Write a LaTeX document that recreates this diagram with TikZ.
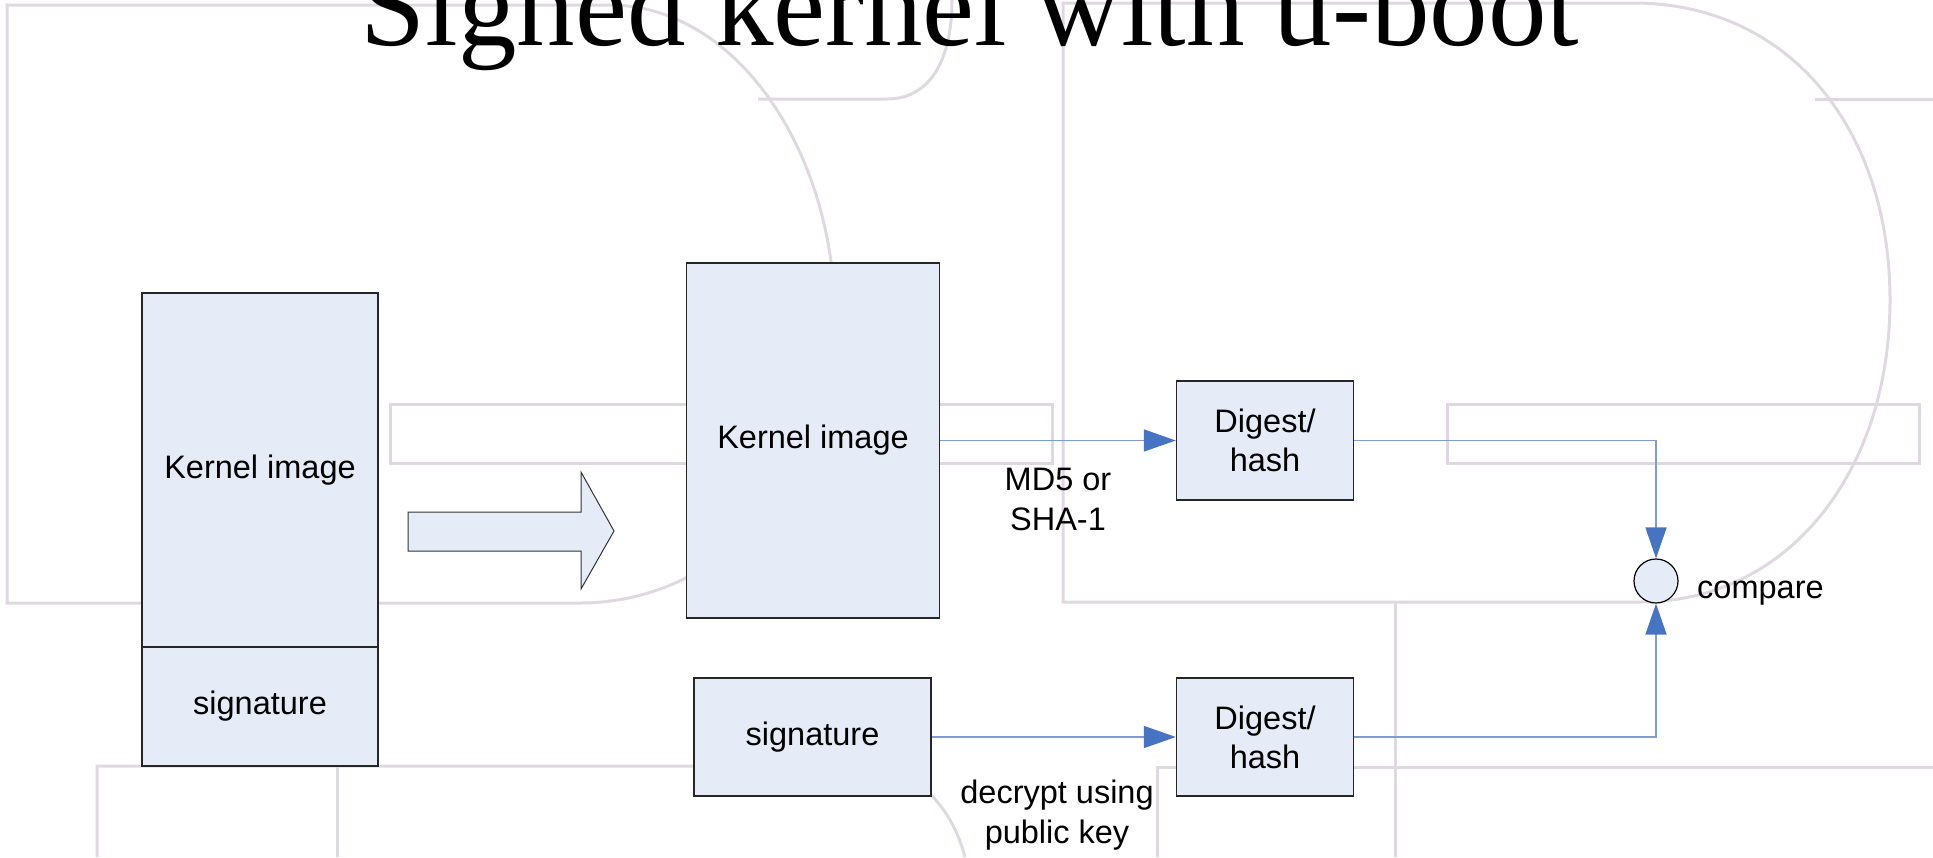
\documentclass[tikz,border=0pt]{standalone}
\usepackage{fontspec}
\setmainfont{Liberation Sans}
\newfontfamily\titlefont{Liberation Serif}
\usetikzlibrary{arrows.meta}
\definecolor{boxfill}{RGB}{230,236,247}
\definecolor{wm}{RGB}{224,216,225}
\definecolor{linkblue}{RGB}{126,157,212}
\definecolor{headblue}{RGB}{70,116,194}
\tikzset{
  box/.style={draw=black!85, line width=1.4pt, fill=boxfill, inner sep=0pt,
    font=\fontsize{32.5}{39}\selectfont, align=center},
  wmline/.style={draw=wm, line width=3pt},
  link/.style={draw=linkblue, line width=1.6pt},
  bluehead/.style={-{Triangle[length=32pt,width=22pt,fill=headblue,color=headblue]}},
  lbl/.style={font=\fontsize{32.5}{40}\selectfont, align=center, inner sep=0pt},
}
\begin{document}
\begin{tikzpicture}[x=1pt,y=-1pt]
\useasboundingbox (0,0) rectangle (1933,857);
% ---------- watermark ----------
\draw[wmline] (610,5) -- (7,5) -- (7,603) -- (580,603)
   .. controls (720,603) and (835,480) .. (835,320)
   .. controls (835,150) and (735,5) .. (610,5);
\draw[wmline] (1633,3) -- (1063,3) -- (1063,602) -- (1640,602)
   .. controls (1790,602) and (1890,470) .. (1890,300)
   .. controls (1890,130) and (1790,3) .. (1633,3);
\draw[wmline] (758,99) -- (887,99) .. controls (930,99) and (952,60) .. (952,0);
\draw[wmline] (1815,99) -- (1933,99);
\draw[wmline] (390,404) rectangle (1052,463);
\draw[wmline] (1447,404) rectangle (1919,463);
\draw[wmline] (1395,602) -- (1395,857);
\draw[wmline] (97,857) -- (97,766) -- (860,766) .. controls (910,766) and (950,800) .. (965,857);
\draw[wmline] (337,766) -- (337,857);
\draw[wmline] (1157,857) -- (1157,767) -- (1933,767);
% ---------- title ----------
\node[font=\titlefont\fontsize{117}{117}\selectfont, anchor=base, inner sep=0pt]
  (title) at (970,45) {Signed kernel with u-boot};
% ---------- left stacked image ----------
\node[box, minimum width=236pt, minimum height=354pt] (k1) at (260,470) {Kernel image};
\node[box, minimum width=236pt, minimum height=119pt] (s1) at (260,706.5) {signature};
% ---------- block arrow ----------
\draw[line width=1pt, draw=black!80, fill=boxfill]
  (408,512) -- (581,512) -- (581,472) -- (614,531) -- (581,589) -- (581,551) -- (408,551) -- cycle;
% ---------- right side ----------
\node[box, minimum width=253pt, minimum height=355pt] (k2) at (813,440.5) {Kernel image};
\node[box, minimum width=237pt, minimum height=118pt] (s2) at (812.5,737) {signature};
\node[box, minimum width=177pt, minimum height=119pt] (d1) at (1265,440.5) {Digest/\\hash};
\node[box, minimum width=177pt, minimum height=118pt] (d2) at (1265,737) {Digest/\\hash};
\node[circle, draw=black, line width=1.2pt, fill=boxfill, minimum size=44pt, inner sep=0pt]
  (cmp) at (1656,581) {};
\node[lbl, anchor=base west] (cmpl) at (1697,598) {compare};
\node[lbl, anchor=base] (md5) at (1058,530) {MD5 or\\SHA-1};
\node[lbl, anchor=base] (dec) at (1057,843) {decrypt using\\public key};
% ---------- connectors ----------
\draw[link, bluehead] (k2) -- (d1);
\draw[link, bluehead] (s2) -- (d2);
\draw[link, -{Triangle[length=31pt,width=21pt,fill=headblue,color=headblue]}] (d1.east) -| (cmp.north);
\draw[link, -{Triangle[length=31pt,width=21pt,fill=headblue,color=headblue]}] (d2.east) -| (cmp.south);
\end{tikzpicture}
\end{document}
